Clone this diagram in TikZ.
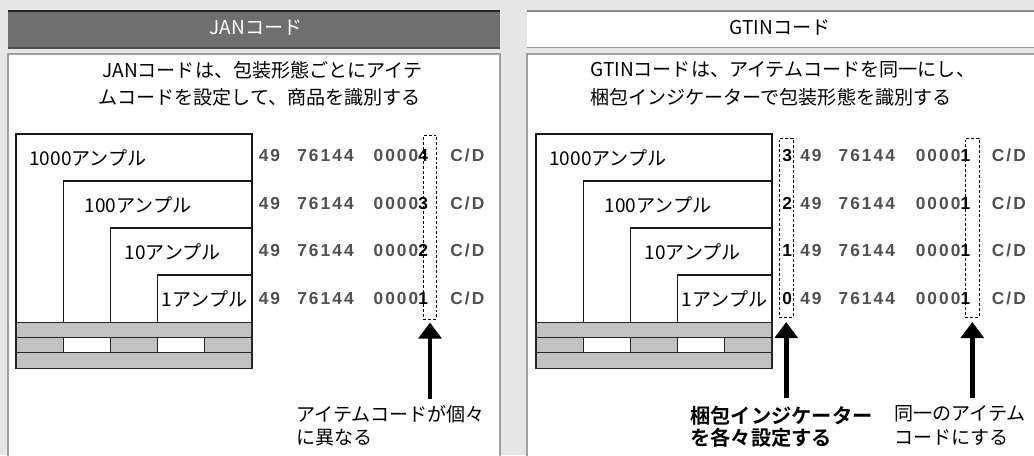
\documentclass[tikz,border=0pt]{standalone}
\usepackage{fontspec}
\setmainfont{Noto Sans CJK JP}[BoldFont={Noto Sans CJK JP Bold}]
\newfontfamily\codefont[LetterSpace=12]{Liberation Sans}
\usetikzlibrary{arrows.meta}
\definecolor{bg}{HTML}{E6E6E6}
\definecolor{hdark}{HTML}{6F6F6F}
\definecolor{codegray}{HTML}{505050}
\definecolor{pal}{HTML}{C1C2C1}
\definecolor{panelborder}{HTML}{A0A0A0}
\begin{document}
\begin{tikzpicture}[x=0.75pt,y=-0.75pt,
  jp/.style={font=\fontsize{14.3pt}{17pt}\selectfont, inner sep=0pt, anchor=west},
  jpb/.style={font=\fontsize{15.2pt}{18pt}\selectfont\bfseries, inner sep=0pt, anchor=west},
  hdr/.style={font=\fontsize{14.3pt}{17pt}\selectfont, inner sep=0pt},
  code/.style={font=\codefont\fontsize{13pt}{15pt}\selectfont\bfseries, text=codegray, inner sep=0pt, anchor=base west},
  codek/.style={code, text=black},
  boxline/.style={draw=black!90, line width=1pt},
  pallet/.style={draw=black!85, line width=1pt, fill=pal},
  palw/.style={draw=black!85, line width=1pt, fill=white},
  dbox/.style={draw=black, dash pattern=on 2.2pt off 1.5pt, line width=0.7pt, inner sep=0pt, minimum width=10.3pt, minimum height=134pt},
  bigarrow/.style={-{Triangle[width=17pt,length=12pt]}, line width=3.6pt}
]
\useasboundingbox (0,0) rectangle (1034,455);
\clip (0,0) rectangle (1034,455);
\fill[bg] (0,0) rectangle (1034,455);

% panels
\draw[panelborder, line width=1.5pt, fill=white] (8,54) rectangle (500,470);
\draw[panelborder, line width=1.5pt, fill=white] (527,54) rectangle (1050,470);

% headers
\fill[hdark] (8,10) rectangle (500,49);
\draw[black!85, line width=1.5pt] (8,11) -- (500,11);
\draw[black!70, line width=1pt] (8,48) -- (500,48);
\fill[white] (527,10) rectangle (1034,48);
\draw[black!45, line width=1.5pt] (527,11) -- (1034,11);
\draw[black!40, line width=1pt] (527,47.5) -- (1034,47.5);
\node[hdr, text=white] (hL) at (256,28) {JANコード};
\node[hdr] (hR) at (780,28) {GTINコード};

% titles
\node[jp] (tL1) at (102,70) {JANコードは、包装形態ごとにアイテ};
\node[jp] (tL2) at (98,97) {ムコードを設定して、商品を識別する};
\node[jp] (tR1) at (590,70) {GTINコードは、アイテムコードを同一にし、};
\node[jp] (tR2) at (590,97) {梱包インジケーターで包装形態を識別する};

% ---------- nested boxes and pallets ----------
\foreach \ox in {0,520}{
  \draw[boxline] (16+\ox,322.7) -- (16+\ox,134) -- (252+\ox,134) -- (252+\ox,322.7);
  \draw[boxline] (63.3+\ox,322.7) -- (63.3+\ox,181) -- (252+\ox,181);
  \draw[boxline] (110.5+\ox,322.7) -- (110.5+\ox,228) -- (252+\ox,228);
  \draw[boxline] (157.5+\ox,322.7) -- (157.5+\ox,275) -- (252+\ox,275);
  \draw[pallet] (16+\ox,322.7) rectangle (252+\ox,337.7);
  \draw[pallet] (16+\ox,337.7) rectangle (63.3+\ox,352.7);
  \draw[palw] (63.3+\ox,337.7) rectangle (110.7+\ox,352.7);
  \draw[pallet] (110.7+\ox,337.7) rectangle (157.7+\ox,352.7);
  \draw[palw] (157.7+\ox,337.7) rectangle (204.7+\ox,352.7);
  \draw[pallet] (204.7+\ox,337.7) rectangle (252+\ox,352.7);
  \draw[pallet] (16+\ox,352.7) rectangle (252+\ox,368.7);
}

\node[jp] (aL1000) at (29,158) {1000アンプル};
\node[jp] (aL100) at (84.5,205) {100アンプル};
\node[jp] (aL10) at (124.5,252) {10アンプル};
\node[jp] (aL1) at (161.5,299) {1アンプル};
\node[jp] (aR1000) at (549,158) {1000アンプル};
\node[jp] (aR100) at (604.5,205) {100アンプル};
\node[jp] (aR10) at (644.5,252) {10アンプル};
\node[jp] (aR1) at (681.5,299) {1アンプル};

% ---------- left codes ----------
\foreach \y/\d [count=\i] in {161.7/4,209/3,256.3/2,304/1}{
  \node[code] (cLa\i) at (258.5,\y) {49};
  \node[code] (cLb\i) at (297,\y) {76144};
  \node[code] (cLc\i) at (373.3,\y) {0000\textcolor{black}{\d}};
  \node[code] (cLd\i) at (450,\y) {C/D};
}
% ---------- right codes ----------
\foreach \y/\d [count=\i] in {161.7/3,209/2,256.3/1,304/0}{
  \node[codek] (cRp\i) at (782,\y) {\d};
  \node[code] (cRa\i) at (800,\y) {49};
  \node[code] (cRb\i) at (838.3,\y) {76144};
  \node[code] (cRc\i) at (915.5,\y) {0000\textcolor{black}{1}};
  \node[code] (cRd\i) at (991.6,\y) {C/D};
}

% dashed boxes
\node[dbox, minimum height=138pt, minimum width=9.9pt] (dL) at (430,227) {};
\node[dbox] (dR1) at (786.2,227.8) {};
\node[dbox] (dR2) at (972.3,227.8) {};

% arrows
\coordinate (sL) at (430,399);
\coordinate (sR1) at (786.2,398.3);
\coordinate (sR2) at (972.3,398.3);
\draw[bigarrow] (sL) -- ([yshift=-2.3pt]dL.south);
\draw[bigarrow] (sR1) -- ([yshift=-3.3pt]dR1.south);
\draw[bigarrow] (sR2) -- ([yshift=-3.3pt]dR2.south);

% bottom notes
\node[jp] (nL1) at (296,414) {アイテムコードが個々};
\node[jp] (nL2) at (296,437.7) {に異なる};
\node[jpb] (nR1) at (690,416) {梱包インジケーター};
\node[jpb] (nR2) at (690,438) {を各々設定する};
\node[jp] (nR3) at (894,414) {同一のアイテム};
\node[jp] (nR4) at (894,437.7) {コードにする};
\end{tikzpicture}
\end{document}
